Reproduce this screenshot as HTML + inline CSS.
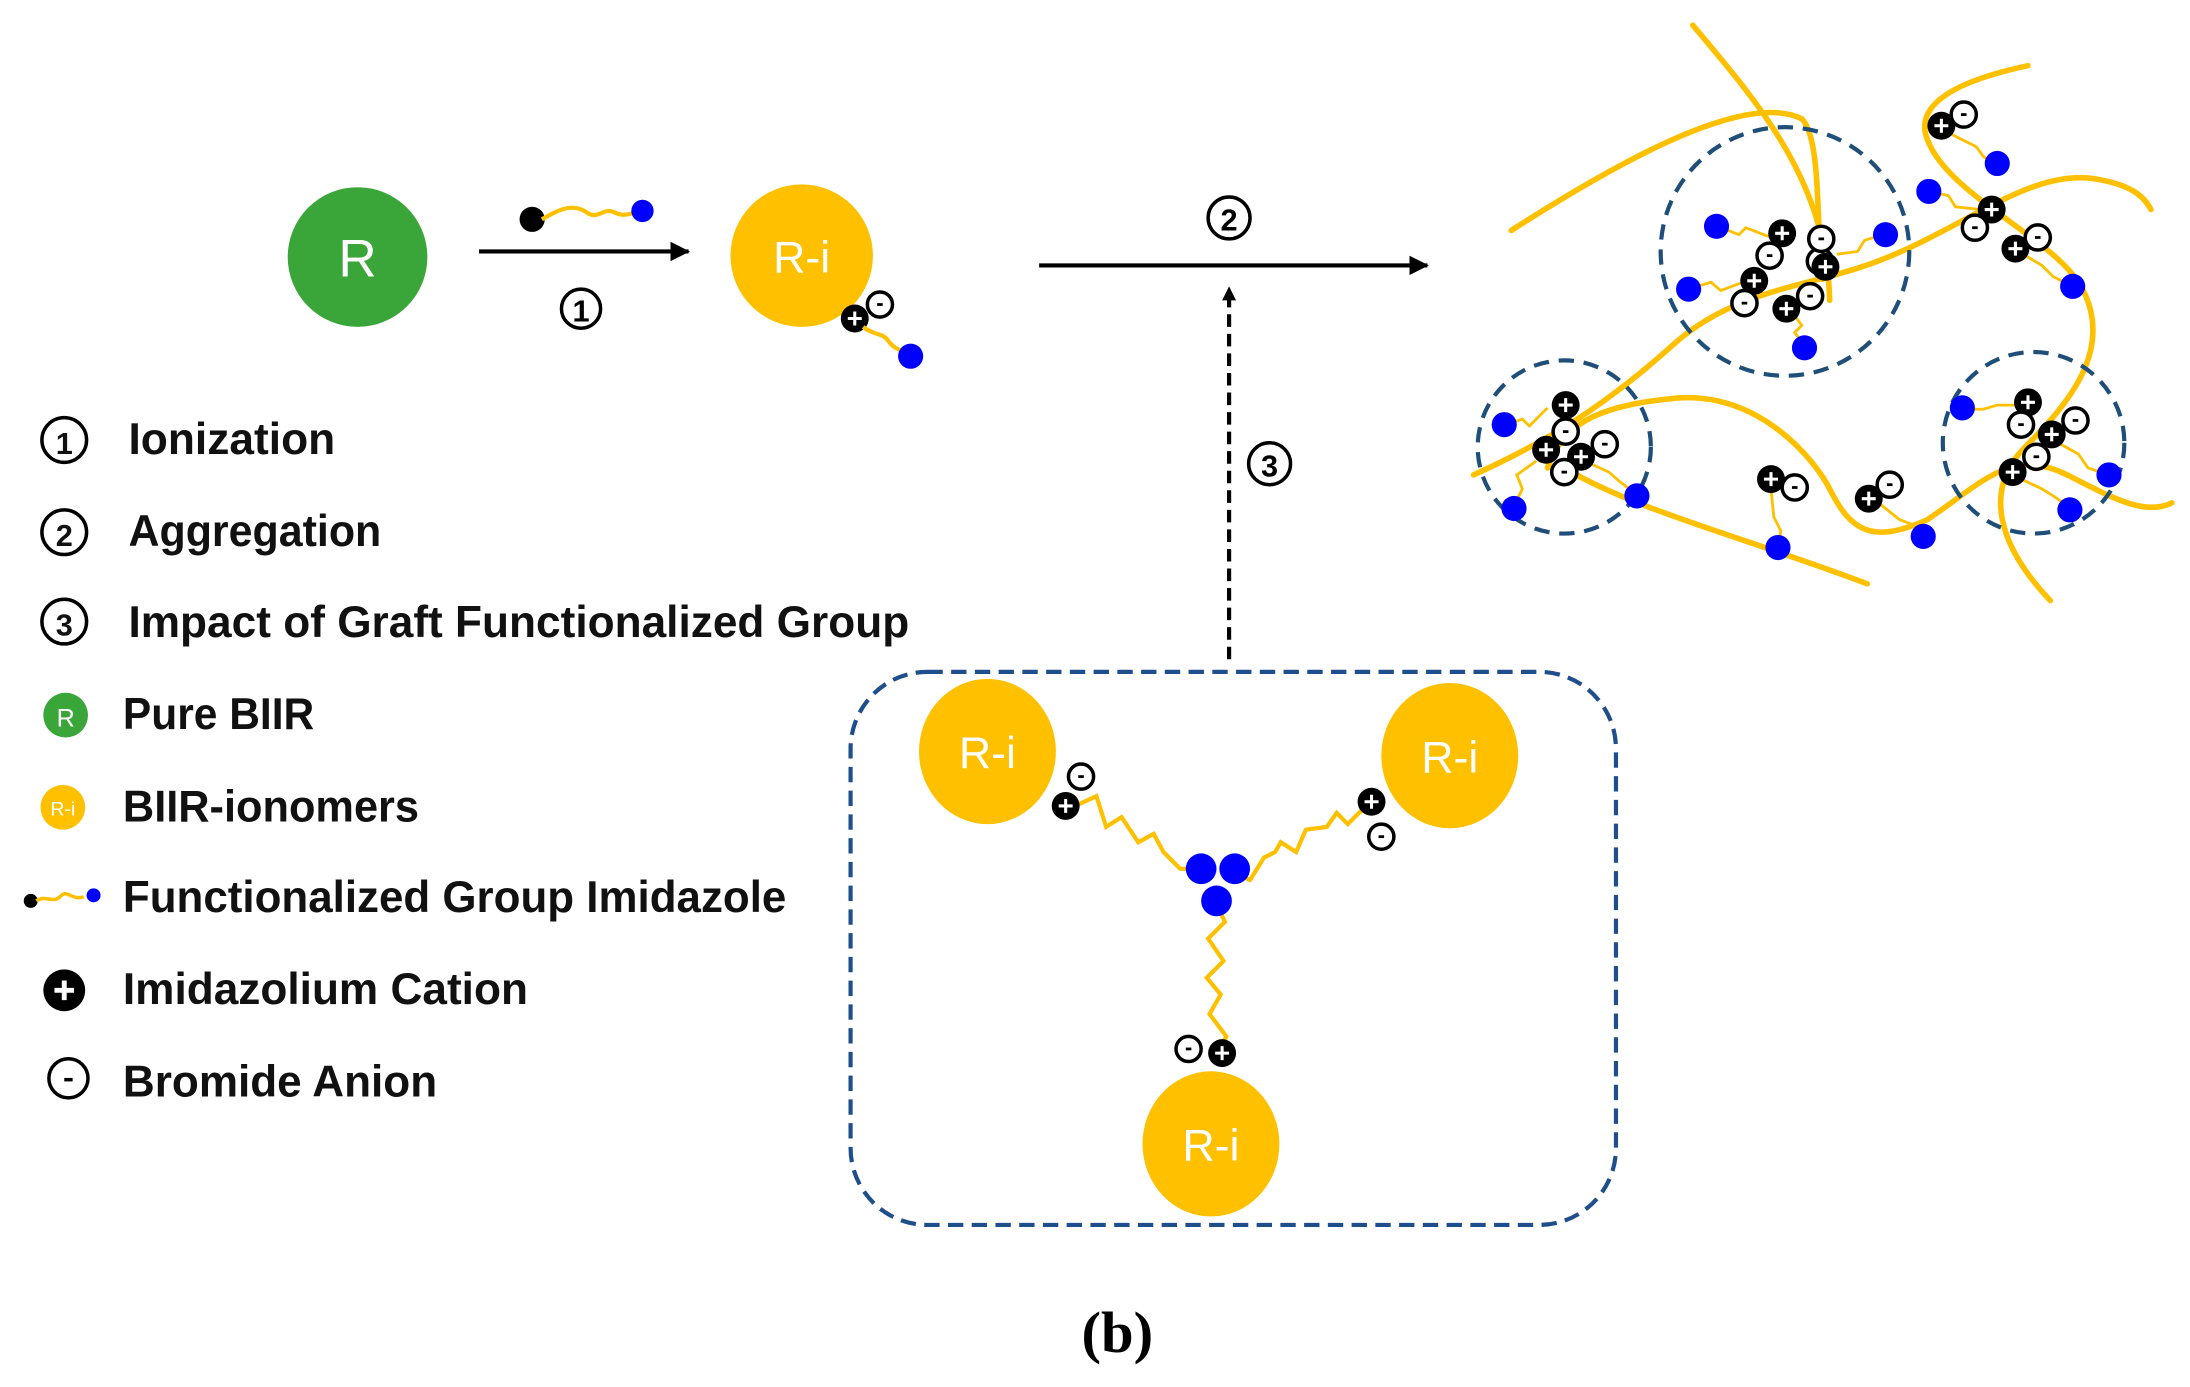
<!DOCTYPE html>
<html><head><meta charset="utf-8"><style>html,body{margin:0;padding:0;background:#fff}svg{display:block}</style></head><body>
<svg width="2190" height="1387" viewBox="0 0 1568 993" xmlns="http://www.w3.org/2000/svg" font-family="Liberation Sans, sans-serif">
<defs>
<g id="cat"><circle r="10" fill="#000"/><path d="M-5,0H5M0,-5V5" stroke="#fff" stroke-width="2.2"/></g>
<g id="an"><circle r="9" fill="#fff" stroke="#000" stroke-width="2.5"/><path d="M-2,0H2" stroke="#000" stroke-width="2"/></g>
<marker id="ah" markerWidth="10" markerHeight="10" refX="9" refY="5" orient="auto" markerUnits="userSpaceOnUse"><path d="M0,0L10,5L0,10Z" fill="#000"/></marker>
<marker id="ah2" markerWidth="14" markerHeight="14" refX="13" refY="7" orient="auto" markerUnits="userSpaceOnUse"><path d="M0,0L14,7L0,14Z" fill="#000"/></marker>
</defs>
<circle cx="256" cy="184" r="50" fill="#3AA63A"/>
<text x="256" y="198" font-size="38" fill="#fff" text-anchor="middle">R</text>
<line x1="343" y1="180" x2="493" y2="180" stroke="#000" stroke-width="3" marker-end="url(#ah2)"/>
<circle cx="381" cy="157" r="9" fill="#000"/>
<path d="M388,157 C400,150 410,145 420,152 C428,158 432,148 440,152 C448,156 452,152 460,151" stroke="#FFC000" stroke-width="3" fill="none"/>
<circle cx="460" cy="151" r="8" fill="#0000FF"/>
<circle cx="416" cy="221" r="14" fill="none" stroke="#000" stroke-width="2.5"/>
<text x="416" y="230" font-size="22" font-weight="bold" text-anchor="middle">1</text>
<circle cx="574" cy="183" r="51" fill="#FFC000"/>
<text x="574" y="195" font-size="32" fill="#fff" text-anchor="middle">R-i</text>
<use href="#cat" x="612" y="228"/><use href="#an" x="630" y="218"/>
<path d="M618,234 C625,240 632,238 636,244 C640,250 645,250 652,255" stroke="#FFC000" stroke-width="3" fill="none"/>
<circle cx="652" cy="255" r="9" fill="#0000FF"/>
<line x1="744" y1="190" x2="1022" y2="190" stroke="#000" stroke-width="3" marker-end="url(#ah2)"/>
<circle cx="880" cy="156" r="15" fill="none" stroke="#000" stroke-width="2.5"/>
<text x="880" y="165" font-size="22" font-weight="bold" text-anchor="middle">2</text>
<line x1="880" y1="472" x2="880" y2="206" stroke="#000" stroke-width="3" stroke-dasharray="9,5" marker-end="url(#ah)"/>
<circle cx="909" cy="332" r="15" fill="none" stroke="#000" stroke-width="2.5"/>
<text x="909" y="341" font-size="22" font-weight="bold" text-anchor="middle">3</text>
<g font-size="32" font-weight="bold" fill="#111">
<circle cx="46" cy="315" r="16" fill="none" stroke="#000" stroke-width="2.5"/><text x="46" y="325" font-size="22" text-anchor="middle">1</text>
<text x="92" y="325" textLength="148" lengthAdjust="spacingAndGlyphs">Ionization</text>
<circle cx="46" cy="381" r="16" fill="none" stroke="#000" stroke-width="2.5"/><text x="46" y="391" font-size="22" text-anchor="middle">2</text>
<text x="92" y="391" textLength="181" lengthAdjust="spacingAndGlyphs">Aggregation</text>
<circle cx="46" cy="445" r="16" fill="none" stroke="#000" stroke-width="2.5"/><text x="46" y="455" font-size="22" text-anchor="middle">3</text>
<text x="92" y="456" textLength="559" lengthAdjust="spacingAndGlyphs">Impact of Graft Functionalized Group</text>
<circle cx="47" cy="512" r="16" fill="#3AA63A"/><text x="47" y="520" font-size="18" fill="#fff" text-anchor="middle" font-weight="normal">R</text>
<text x="88" y="522" textLength="137" lengthAdjust="spacingAndGlyphs">Pure BIIR</text>
<circle cx="45" cy="578" r="16" fill="#FFC000"/><text x="45" y="584" font-size="14" fill="#fff" text-anchor="middle" font-weight="normal">R-i</text>
<text x="88" y="588" textLength="212" lengthAdjust="spacingAndGlyphs">BIIR-ionomers</text>
<circle cx="22" cy="645" r="5" fill="#000"/><path d="M26,645 C33,640 38,648 44,641 C48,637 52,645 60,642" stroke="#FFC000" stroke-width="2.5" fill="none"/><circle cx="67" cy="641" r="5" fill="#0000FF"/>
<text x="88" y="653" textLength="475" lengthAdjust="spacingAndGlyphs">Functionalized Group Imidazole</text>
<circle cx="46" cy="709" r="15" fill="#000"/><path d="M39,709H53M46,702V716" stroke="#fff" stroke-width="3.5"/>
<text x="88" y="719" textLength="290" lengthAdjust="spacingAndGlyphs">Imidazolium Cation</text>
<circle cx="49" cy="772" r="14" fill="none" stroke="#000" stroke-width="2.5"/><path d="M46,773H52" stroke="#000" stroke-width="2.5"/>
<text x="88" y="785" textLength="225" lengthAdjust="spacingAndGlyphs">Bromide Anion</text>
</g>
<rect x="609" y="481" width="548" height="396" rx="55" fill="none" stroke="#1F4E8C" stroke-width="3" stroke-dasharray="11,6"/>
<ellipse cx="707" cy="538" rx="49" ry="52" fill="#FFC000"/><text x="707" y="550" font-size="32" fill="#fff" text-anchor="middle">R-i</text>
<ellipse cx="1038" cy="541" rx="49" ry="52" fill="#FFC000"/><text x="1038" y="553" font-size="32" fill="#fff" text-anchor="middle">R-i</text>
<ellipse cx="867" cy="819" rx="49" ry="52" fill="#FFC000"/><text x="867" y="831" font-size="32" fill="#fff" text-anchor="middle">R-i</text>
<g stroke="#FFC000" stroke-width="3" fill="none">
<path d="M772,576 L785,570 L792,592 L803,585 L815,603 L826,597 L833,610 L845,622 L858,622"/>
<path d="M882,624 L895,630 L905,614 L913,610 L917,603 L928,610 L935,594 L950,592 L957,582 L965,590 L975,580"/>
<path d="M871,647 L877,660 L865,672 L876,688 L864,700 L874,712 L866,726 L878,742 L873,752"/>
</g>
<circle cx="860" cy="622" r="11" fill="#0000FF"/><circle cx="884" cy="622" r="11" fill="#0000FF"/><circle cx="871" cy="645" r="11" fill="#0000FF"/>
<use href="#cat" x="763" y="577"/><use href="#an" x="774" y="556"/>
<use href="#cat" x="982" y="574"/><use href="#an" x="989" y="599"/>
<use href="#an" x="851" y="751"/><use href="#cat" x="875" y="754"/>
<g stroke="#FFC000" stroke-width="4" fill="none" stroke-linecap="round">
<path d="M1082,165 C1160,115 1250,65 1290,85 C1305,100 1300,170 1305,200"/>
<path d="M1212,18 C1260,75 1308,130 1310,215"/>
<path d="M1055,340 C1110,315 1150,290 1200,245 C1240,210 1290,205 1330,192 C1400,170 1450,120 1500,128 C1525,132 1535,140 1540,150"/>
<path d="M1452,47 C1400,58 1370,75 1380,100 C1395,140 1470,170 1490,205 C1515,250 1480,290 1450,320 C1420,350 1430,390 1468,430"/>
<path d="M1108,335 C1120,300 1150,290 1200,285 C1260,280 1300,330 1310,350 C1325,380 1340,390 1380,372 C1420,345 1440,320 1480,340 C1510,355 1535,370 1555,360"/>
<path d="M1120,335 C1170,365 1250,385 1337,418"/>
</g>
<g fill="none" stroke="#1F4E79" stroke-width="3" stroke-dasharray="11,7">
<circle cx="1278" cy="180" r="89"/><circle cx="1120" cy="320" r="62"/><circle cx="1456" cy="317" r="65"/>
</g>
<g stroke="#FFC000" stroke-width="2" fill="none">
<path d="M1230,162 L1245,168 L1250,163 L1268,170"/><path d="M1209,207 L1225,202 L1232,208 L1248,202"/>
<path d="M1348,168 L1335,172 L1330,180 L1315,182"/><path d="M1292,248 L1285,238 L1290,233 L1282,222"/>
<path d="M1078,304 L1090,300 L1095,305 L1108,292"/><path d="M1084,362 L1090,350 L1086,340 L1100,330"/>
<path d="M1172,354 L1160,345 L1152,338 L1130,328"/><path d="M1430,118 L1420,112 L1415,105 L1395,95"/>
<path d="M1381,137 L1395,140 L1400,148 L1418,150"/><path d="M1484,205 L1470,198 L1462,190 L1445,180"/>
<path d="M1273,392 L1275,380 L1270,370 L1268,350"/><path d="M1377,384 L1368,375 L1360,372 L1345,360"/>
<path d="M1406,293 L1420,293 L1430,290 L1448,290"/><path d="M1510,340 L1495,335 L1488,325 L1470,315"/>
<path d="M1483,364 L1470,355 L1462,350 L1445,342"/>
</g>
<g fill="#0000FF">
<circle cx="1229" cy="162" r="9"/><circle cx="1209" cy="207" r="9"/><circle cx="1350" cy="168" r="9"/><circle cx="1292" cy="249" r="9"/>
<circle cx="1077" cy="304" r="9"/><circle cx="1084" cy="364" r="9"/><circle cx="1172" cy="355" r="9"/>
<circle cx="1430" cy="117" r="9"/><circle cx="1381" cy="137" r="9"/><circle cx="1484" cy="205" r="9"/>
<circle cx="1273" cy="392" r="9"/><circle cx="1377" cy="384" r="9"/>
<circle cx="1405" cy="292" r="9"/><circle cx="1510" cy="340" r="9"/><circle cx="1482" cy="365" r="9"/>
</g>
<use href="#cat" x="1276" y="167"/><use href="#an" x="1267" y="183"/><use href="#cat" x="1256" y="201"/><use href="#an" x="1249" y="217"/>
<use href="#an" x="1303" y="187"/><use href="#cat" x="1307" y="191"/><use href="#an" x="1296" y="212"/><use href="#cat" x="1279" y="221"/>
<use href="#an" x="1304" y="171"/>
<use href="#cat" x="1121" y="290"/><use href="#an" x="1121" y="309"/><use href="#cat" x="1107" y="322"/><use href="#cat" x="1132" y="327"/><use href="#an" x="1149" y="318"/><use href="#an" x="1120" y="338"/>
<use href="#cat" x="1390" y="90"/><use href="#an" x="1406" y="82"/>
<use href="#cat" x="1426" y="150"/><use href="#an" x="1414" y="163"/>
<use href="#cat" x="1443" y="178"/><use href="#an" x="1459" y="170"/>
<use href="#cat" x="1452" y="288"/><use href="#an" x="1447" y="304"/><use href="#cat" x="1469" y="311"/><use href="#an" x="1486" y="301"/><use href="#cat" x="1441" y="338"/><use href="#an" x="1458" y="327"/>
<use href="#cat" x="1268" y="343"/><use href="#an" x="1285" y="349"/>
<use href="#cat" x="1338" y="357"/><use href="#an" x="1353" y="347"/>
<text x="800" y="968" font-family="Liberation Serif, serif" font-size="42" font-weight="bold" text-anchor="middle">(b)</text>
</svg>
</body></html>
